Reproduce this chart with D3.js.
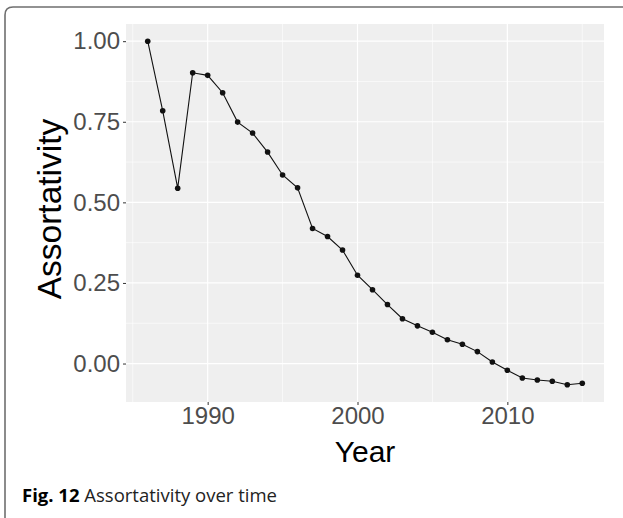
<!DOCTYPE html>
<meta charset="utf-8">
<script src="https://d3js.org/d3.v7.min.js"></script>
<style>
	body {
		margin: 0;
		padding: 0;
		background: #fff;
		overflow: hidden;
	}
</style>
<div id="chart"></div>
<script>
	// values
	const years = [1986, 1987, 1988, 1989, 1990, 1991, 1992, 1993, 1994, 1995, 1996, 1997, 1998, 1999, 2000,
		2001, 2002, 2003, 2004, 2005, 2006, 2007, 2008, 2009, 2010, 2011, 2012, 2013, 2014, 2015];
	const assortativity = [1.000, 0.784, 0.544, 0.902, 0.894, 0.840, 0.749, 0.715, 0.656, 0.585, 0.545, 0.419, 0.394, 0.352, 0.274,
		0.229, 0.183, 0.139, 0.117, 0.097, 0.074, 0.060, 0.037, 0.005, -0.021, -0.045, -0.051, -0.055, -0.066, -0.061];
	const xTicks = [1990, 2000, 2010];
	const xMinor = [1985, 1995, 2005, 2015];
	const yTicks = [0, 0.25, 0.5, 0.75, 1];
	const yMinor = [0.125, 0.375, 0.625, 0.875];

	const W = 623, H = 518;
	const panel = { left: 126, right: 604, top: 24, bottom: 402 };
	const sans = "'Liberation Sans', Arial, Helvetica, sans-serif";

	const data = years.map((y, i) => ({ year: y, value: assortativity[i] }));

	const svg = d3.select("#chart").append("svg")
		.attr("width", W)
		.attr("height", H);

	// figure frame (rounded top-left corner, running off the page)
	svg.append("path")
		.attr("d", "M5,530 L5,15 Q5,7 13,7 L630,7")
		.attr("fill", "none")
		.attr("stroke", "#6f6f6f")
		.attr("stroke-width", 1.6);

	// ggplot style 5% expansion
	const xr = d3.extent(years), yr = d3.extent(assortativity);
	const xpad = (xr[1] - xr[0]) * 0.05, ypad = (yr[1] - yr[0]) * 0.05;
	const x = d3.scaleLinear().domain([xr[0] - xpad, xr[1] + xpad]).range([panel.left, panel.right]);
	const y = d3.scaleLinear().domain([yr[0] - ypad, yr[1] + ypad]).range([panel.bottom, panel.top]);

	svg.append("rect")
		.attr("x", panel.left).attr("y", panel.top)
		.attr("width", panel.right - panel.left)
		.attr("height", panel.bottom - panel.top)
		.attr("fill", "#efefef");

	const grid = svg.append("g");
	grid.selectAll(".ymin").data(yMinor).join("line")
		.attr("x1", panel.left).attr("x2", panel.right)
		.attr("y1", d => y(d)).attr("y2", d => y(d))
		.attr("stroke", "#fff").attr("stroke-width", 0.6);
	grid.selectAll(".xmin").data(xMinor).join("line")
		.attr("y1", panel.top).attr("y2", panel.bottom)
		.attr("x1", d => x(d)).attr("x2", d => x(d))
		.attr("stroke", "#fff").attr("stroke-width", 0.6);
	grid.selectAll(".ymaj").data(yTicks).join("line")
		.attr("x1", panel.left).attr("x2", panel.right)
		.attr("y1", d => y(d)).attr("y2", d => y(d))
		.attr("stroke", "#fff").attr("stroke-width", 1.2);
	grid.selectAll(".xmaj").data(xTicks).join("line")
		.attr("y1", panel.top).attr("y2", panel.bottom)
		.attr("x1", d => x(d)).attr("x2", d => x(d))
		.attr("stroke", "#fff").attr("stroke-width", 1.2);

	// axes
	const yAxis = svg.append("g")
		.attr("transform", `translate(${panel.left},0)`)
		.call(d3.axisLeft(y).tickValues(yTicks).tickFormat(d3.format(".2f")).tickSize(3).tickPadding(3));
	const xAxis = svg.append("g")
		.attr("transform", `translate(0,${panel.bottom})`)
		.call(d3.axisBottom(x).tickValues(xTicks).tickFormat(d3.format("d")).tickSize(3).tickPadding(2));
	for (const ax of [xAxis, yAxis]) {
		ax.select(".domain").remove();
		ax.selectAll(".tick line").attr("stroke", "#333").attr("stroke-width", 1);
		ax.selectAll(".tick text")
			.attr("fill", "#4d4d4d")
			.style("font-family", sans)
			.style("font-size", "24px");
	}

	// line + points
	const line = d3.line().x(d => x(d.year)).y(d => y(d.value));
	svg.append("path")
		.datum(data)
		.attr("d", line)
		.attr("fill", "none")
		.attr("stroke", "#111")
		.attr("stroke-width", 1.1);
	svg.append("g").selectAll("circle").data(data).join("circle")
		.attr("cx", d => x(d.year))
		.attr("cy", d => y(d.value))
		.attr("r", 2.8)
		.attr("fill", "#111");

	// axis titles
	svg.append("text")
		.attr("x", 365)
		.attr("y", 462)
		.attr("text-anchor", "middle")
		.style("font-family", sans)
		.style("font-size", "30px")
		.attr("fill", "#000")
		.text("Year");
	svg.append("text")
		.attr("transform", `translate(61,209) rotate(-90)`)
		.attr("text-anchor", "middle")
		.style("font-family", sans)
		.style("font-size", "33.5px")
		.attr("fill", "#000")
		.text("Assortativity");

	// caption
	const cap = svg.append("text")
		.attr("x", 22)
		.attr("y", 502)
		.style("font-family", "'Open Sans', 'Noto Sans', sans-serif")
		.style("font-size", "18.5px")
		.attr("fill", "#222");
	cap.append("tspan").attr("font-weight", "bold").attr("fill", "#000").text("Fig. 12");
	cap.append("tspan").text(" Assortativity over time");
</script>
